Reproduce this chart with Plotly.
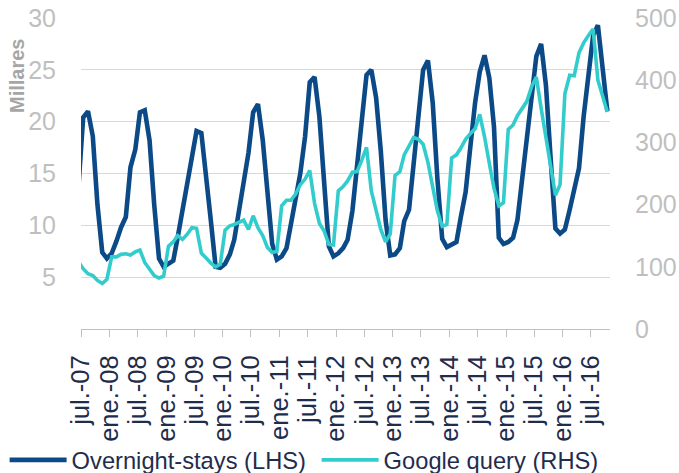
import plotly.graph_objects as go
import pandas as pd

# Monthly observations, Jun-2007 .. Oct-2016 (plotted mid-month)
months = pd.date_range("2007-06-01", "2016-10-01", freq="MS") + pd.Timedelta(days=14)

overnight_stays = [
    13.8,
    20.4, 21.0, 18.6, 12.0, 7.4, 6.8,
    7.3, 8.5, 9.8, 10.8, 15.6, 17.3, 20.9, 21.1, 18.2, 12.0, 6.8, 6.0,
    6.3, 6.6, 8.8, 11.5, 14.0, 16.7, 19.1, 18.9, 15.0, 10.5, 6.0, 5.9,
    6.3, 7.2, 8.6, 11.3, 14.5, 17.0, 20.9, 21.7, 18.2, 13.3, 8.2, 6.7,
    7.0, 7.8, 10.0, 12.3, 15.0, 18.6, 23.8, 24.3, 20.5, 14.3, 8.0, 7.0,
    7.3, 7.8, 8.6, 11.4, 15.8, 20.3, 24.5, 25.0, 22.3, 17.2, 10.5, 7.1,
    7.2, 7.8, 10.4, 11.5, 15.8, 20.5, 25.0, 25.9, 21.8, 14.5, 8.7, 7.9,
    8.2, 8.4, 10.8, 13.2, 17.5, 21.8, 24.8, 26.4, 24.2, 19.5, 8.8, 8.2,
    8.4, 8.8, 10.5, 14.5, 17.5, 22.0, 26.3, 27.5, 23.5, 16.5, 9.7, 9.2,
    9.6, 11.5, 13.5, 15.5, 20.5, 25.0, 28.3, 29.3, 24.5, 21.0,
]

google_query = [
    108,
    97, 89, 86, 78, 73, 80,
    116, 116, 120, 121, 119, 124, 127, 107, 95, 86, 82, 85,
    133, 140, 150, 144, 152, 163, 162, 122, 114, 106, 100, 104,
    159, 166, 168, 171, 175, 160, 182, 163, 150, 131, 123, 125,
    198, 207, 207, 217, 232, 241, 255, 202, 170, 158, 136, 135,
    222, 229, 238, 252, 253, 272, 292, 222, 189, 160, 140, 153,
    247, 253, 280, 295, 308, 305, 297, 268, 230, 190, 165, 168,
    275, 280, 291, 305, 314, 322, 345, 309, 266, 226, 198, 203,
    321, 328, 343, 354, 366, 390, 405, 355, 307, 266, 215, 232,
    378, 408, 407, 444, 460, 472, 482, 400, 376, 349,
]

tick_dates = pd.date_range("2007-07-01", "2016-07-01", freq="6MS")
tick_labels = [
    "jul.-07", "ene.-08", "jul.-08", "ene.-09", "jul.-09", "ene.-10", "jul.-10",
    "ene.-11", "jul.-11", "ene.-12", "jul.-12", "ene.-13", "jul.-13", "ene.-14",
    "jul.-14", "ene.-15", "jul.-15", "ene.-16", "jul.-16",
]
left_ticks = [5, 10, 15, 20, 25, 30]
right_ticks = [0, 100, 200, 300, 400, 500]

BLUE = "#0B4A86"
CYAN = "#33CCCC"
GRID = "#D9D9D9"
LABEL_GRAY = "#BFBFBF"
NAVY = "#1F2D4D"
FONT = "Liberation Sans, Arial, sans-serif"

fig = go.Figure()
fig.add_trace(go.Scatter(
    x=months, y=overnight_stays, name="Overnight-stays (LHS)", mode="lines",
    line=dict(color=BLUE, width=4.6), legend="legend", showlegend=True,
))
fig.add_trace(go.Scatter(
    x=months, y=google_query, name="Google query (RHS)", mode="lines", yaxis="y2",
    line=dict(color=CYAN, width=3.6), legend="legend2", showlegend=True,
))

legend_style = dict(
    orientation="h", xanchor="left", y=-0.421, yanchor="middle",
    font=dict(size=23.7, color=NAVY, family=FONT),
    itemwidth=57, bgcolor="rgba(0,0,0,0)", visible=True,
)

fig.update_layout(
    width=679, height=473,
    showlegend=True,
    margin=dict(l=81, r=69, t=18, b=144, autoexpand=False),
    paper_bgcolor="white", plot_bgcolor="white",
    font=dict(family=FONT),
    xaxis=dict(
        type="date", range=["2007-07-01", "2016-11-01"], automargin=False,
        tickvals=tick_dates, ticktext=tick_labels, tickangle=-90,
        ticks="outside", ticklen=7, tickcolor=LABEL_GRAY, tickwidth=1,
        ticklabelstandoff=8,
        showline=True, linecolor=LABEL_GRAY, linewidth=1.3,
        showgrid=False, zeroline=False,
        tickfont=dict(size=25.5, color=NAVY, family=FONT),
    ),
    yaxis=dict(
        range=[0, 30], tickvals=left_ticks, automargin=False,
        showgrid=True, gridcolor=GRID, gridwidth=1.3, zeroline=False,
        showline=False, ticks="", ticklabelstandoff=24,
        tickfont=dict(size=25, color=LABEL_GRAY, family=FONT),
    ),
    yaxis2=dict(
        range=[0, 500], tickvals=right_ticks, overlaying="y", side="right",
        automargin=False,
        showgrid=False, zeroline=False, showline=False, ticks="",
        ticklabelstandoff=24,
        tickfont=dict(size=25, color=LABEL_GRAY, family=FONT),
    ),
    legend=dict(legend_style, x=-0.1444),
    legend2=dict(legend_style, x=0.4454),
    annotations=[dict(
        text="<b>Millares</b>", xref="paper", yref="paper",
        x=-0.121, y=0.8135, xanchor="center", yanchor="middle",
        textangle=-90, showarrow=False,
        font=dict(size=20, color="#A6A6A6", family=FONT),
    )],
)

fig.write_html(
    "out.html",
    config={"displayModeBar": False},
    post_script="document.body.style.margin='0px';",
)
